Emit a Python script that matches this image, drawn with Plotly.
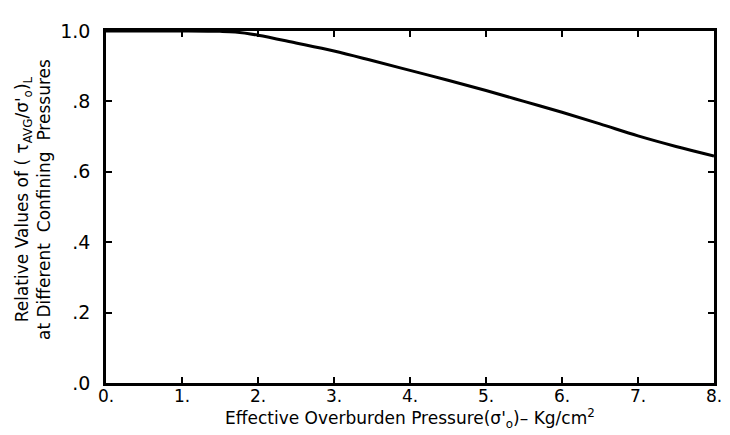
import plotly.graph_objects as go

pressure = [0, 0.5, 1.0, 1.5, 1.7, 2.0, 2.5, 3.0, 3.5, 4.0, 4.5, 5.0, 5.5, 6.0, 6.5, 7.0, 7.5, 8.0]
rel_value = [1.0, 1.0, 1.0, 0.999, 0.997, 0.988, 0.966, 0.943, 0.916, 0.888, 0.860, 0.831, 0.800, 0.769, 0.736, 0.702, 0.672, 0.645]

x_ticks = [0, 1, 2, 3, 4, 5, 6, 7, 8]
x_tick_text = ["0.", "1.", "2.", "3.", "4.", "5.", "6.", "7.", "8."]
y_ticks = [0, 0.2, 0.4, 0.6, 0.8, 1.0]
y_tick_text = [".0", ".2", ".4", ".6", ".8", "1.0"]

x_title = "Effective Overburden Pressure(σ'<sub>o</sub>)– Kg/cm<sup>2</sup>"
y_title = "Relative Values of ( τ<sub>AVG</sub>/σ'<sub>o</sub>)<sub>L</sub><br>at Different  Confining  Pressures"

fig = go.Figure()
fig.add_trace(go.Scatter(x=pressure, y=rel_value, mode="lines",
                         line=dict(color="black", width=3), line_shape="spline",
                         showlegend=False))

font = dict(family="DejaVu Sans", size=16, color="black")
fig.update_layout(
    width=730, height=435,
    margin=dict(l=98, r=24, t=13, b=60),
    paper_bgcolor="white", plot_bgcolor="white",
    font=font,
    xaxis=dict(range=[0, 8], tickvals=x_ticks, ticktext=x_tick_text,
               showline=True, linecolor="black", linewidth=2.5, mirror="ticks",
               ticks="inside", ticklen=6, tickwidth=1.5, tickcolor="black",
               showgrid=False, zeroline=False, ticklabelstandoff=-4,
               tickfont=dict(family="DejaVu Sans", size=17)),
    yaxis=dict(range=[0, 1.0], tickvals=y_ticks, ticktext=y_tick_text,
               showline=True, linecolor="black", linewidth=2.5, mirror="ticks",
               ticks="inside", ticklen=6, tickwidth=1.5, tickcolor="black",
               showgrid=False, zeroline=False, ticklabelstandoff=9,
               tickfont=dict(family="DejaVu Sans", size=19)),
)
fig.add_annotation(text=x_title, xref="paper", yref="paper", x=0.5, y=-0.102,
                   xanchor="center", yanchor="middle", showarrow=False,
                   font=dict(family="DejaVu Sans", size=17))
fig.add_annotation(text=y_title, xref="paper", yref="paper", x=-0.12, y=0.52,
                   xanchor="center", yanchor="middle", showarrow=False, textangle=-90,
                   font=dict(family="DejaVu Sans", size=17))

fig.write_html("out.html")
